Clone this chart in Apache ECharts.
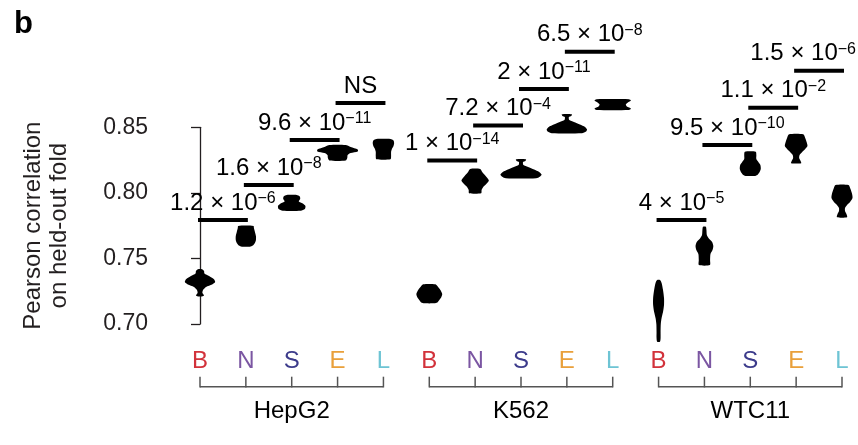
<!DOCTYPE html>
<html>
<head>
<meta charset="utf-8">
<script src="https://cdn.jsdelivr.net/npm/echarts@6/dist/echarts.min.js"></script>
<style>
html,body{margin:0;padding:0;background:#fff;}
#chart{width:858px;height:445px;}
</style>
</head>
<body>
<div id="chart"></div>
<script>
// ---------- data ----------
const groups = ['HepG2', 'K562', 'WTC11'];
const methods = ['B', 'N', 'S', 'E', 'L'];
const yTickValues = [0.70, 0.75, 0.80, 0.85];

// violin density profiles: [correlation, relative density], top to bottom
const hepg2Violins = [
  [[0.7417,0.10],[0.7404,0.20],[0.7385,0.22],[0.7366,0.45],[0.7343,0.68],[0.7320,0.75],[0.7301,0.60],[0.7282,0.30],[0.7259,0.15],[0.7236,0.12],[0.7217,0.20],[0.7210,0.10]],
  [[0.7748,0.38],[0.7732,0.40],[0.7702,0.45],[0.7671,0.50],[0.7641,0.50],[0.7618,0.45],[0.7599,0.35],[0.7590,0.20]],
  [[0.7984,0.25],[0.7973,0.40],[0.7953,0.42],[0.7934,0.35],[0.7919,0.55],[0.7900,0.68],[0.7877,0.65],[0.7864,0.45]],
  [[0.8365,0.40],[0.8350,0.65],[0.8331,1.00],[0.8316,1.00],[0.8304,0.65],[0.8289,0.50],[0.8266,0.48],[0.8246,0.40]],
  [[0.8411,0.35],[0.8400,0.50],[0.8381,0.53],[0.8358,0.50],[0.8335,0.42],[0.8312,0.38],[0.8281,0.38],[0.8256,0.35]]
];
const k562Violins = [
  [[0.7303,0.30],[0.7290,0.40],[0.7259,0.55],[0.7229,0.64],[0.7206,0.60],[0.7183,0.50],[0.7164,0.40],[0.7158,0.25]],
  [[0.8182,0.25],[0.8159,0.35],[0.8129,0.52],[0.8095,0.68],[0.8068,0.55],[0.8045,0.40],[0.8022,0.32],[0.7997,0.30]],
  [[0.8256,0.25],[0.8243,0.22],[0.8236,0.10],[0.8213,0.12],[0.8198,0.35],[0.8178,0.65],[0.8159,0.90],[0.8140,1.02],[0.8125,0.95],[0.8111,0.75]],
  [[0.8600,0.25],[0.8587,0.22],[0.8579,0.10],[0.8556,0.12],[0.8541,0.35],[0.8522,0.65],[0.8503,0.90],[0.8484,1.00],[0.8468,0.95],[0.8455,0.75]],
  [[0.8714,0.80],[0.8705,0.90],[0.8690,0.75],[0.8674,0.65],[0.8659,0.70],[0.8644,0.90],[0.8632,0.80]]
];
const wtc11Violins = [
  [[0.7336,0.07],[0.7313,0.15],[0.7259,0.22],[0.7198,0.27],[0.7145,0.27],[0.7092,0.22],[0.7046,0.15],[0.7000,0.11],[0.6939,0.10],[0.6893,0.10],[0.6865,0.07]],
  [[0.7742,0.07],[0.7717,0.10],[0.7679,0.12],[0.7656,0.20],[0.7625,0.38],[0.7595,0.44],[0.7564,0.40],[0.7534,0.30],[0.7488,0.28],[0.7450,0.27]],
  [[0.8314,0.27],[0.8289,0.30],[0.8259,0.30],[0.8236,0.40],[0.8213,0.50],[0.8182,0.52],[0.8156,0.45],[0.8137,0.35],[0.8129,0.20]],
  [[0.8447,0.35],[0.8419,0.45],[0.8388,0.52],[0.8358,0.56],[0.8335,0.45],[0.8312,0.30],[0.8289,0.17],[0.8266,0.15],[0.8243,0.22],[0.8226,0.25]],
  [[0.8060,0.32],[0.8030,0.42],[0.7992,0.50],[0.7961,0.52],[0.7931,0.40],[0.7908,0.25],[0.7885,0.15],[0.7862,0.15],[0.7839,0.22],[0.7814,0.25]]
];

// significance comparisons (between adjacent methods within a group)
const sigFrom     = [0, 1, 2, 3, 5, 6, 7, 8, 10, 11, 12, 13];
const sigY        = [0.7793, 0.8060, 0.8404, 0.8686, 0.8246, 0.8513, 0.8793, 0.9077, 0.7793, 0.8365, 0.8650, 0.8932];
const sigMantissa = ['1.2', '1.6', '9.6', 'NS', '1', '7.2', '2', '6.5', '4', '9.5', '1.1', '1.5'];
const sigExponent = ['−6', '−8', '−11', '', '−14', '−4', '−11', '−8', '−5', '−10', '−2', '−6'];

// ---------- styles ----------
const methodColors = ['#d2323b', '#7b56a2', '#3c3b8b', '#e9a03b', '#6ec4d4'];
const FONT = '"Liberation Sans", Arial, Helvetica, sans-serif';
const CHART_W = 858;

const allViolins = [].concat(hepg2Violins, k562Violins, wtc11Violins);
const violinData = allViolins.map((p, i) => [i, i]);

const measureCtx = document.createElement('canvas').getContext('2d');
function textWidth(str, size) {
  measureCtx.font = size + 'px ' + FONT;
  return measureCtx.measureText(str).width;
}

const chart = echarts.init(document.getElementById('chart'), null, {renderer: 'canvas'});

const rich = {};
methods.forEach((m, i) => { rich['c' + i] = {color: methodColors[i], fontSize: 24, fontFamily: FONT}; });

const option = {
  animation: false,
  backgroundColor: '#fff',
  grid: {left: 200, right: 16, top: 127.3, bottom: 121, containLabel: false, outerBoundsMode: 'none'},
  xAxis: {
    type: 'value', min: 0, max: 14, interval: 1,
    axisLine: {show: false}, axisTick: {show: false}, splitLine: {show: false},
    axisLabel: {
      margin: 25,
      fontFamily: FONT, fontSize: 24,
      formatter: v => '{c' + (v % 5) + '|' + methods[v % 5] + '}',
      rich: rich
    }
  },
  yAxis: {
    type: 'value', min: 0.70, max: 0.85, interval: 0.05, offset: 28,
    name: 'Pearson correlation\non held-out fold',
    nameLocation: 'middle', nameRotate: 90, nameGap: 100,
    nameTextStyle: {fontFamily: FONT, fontSize: 24, lineHeight: 26, color: '#231f20'},
    axisLine: {show: true, lineStyle: {color: '#231f20', width: 1.3}},
    axisTick: {show: true, length: 9, lineStyle: {color: '#231f20', width: 1.3}},
    splitLine: {show: false},
    axisLabel: {
      margin: 24, fontFamily: FONT, fontSize: 23, color: '#231f20',
      formatter: v => {
        const k = yTickValues.findIndex(t => Math.abs(t - v) < 1e-6);
        return k >= 0 ? yTickValues[k].toFixed(2) : '';
      }
    }
  },
  graphic: [{
    type: 'text', left: 14, top: 9,
    style: {text: 'b', font: 'bold 31px ' + FONT, fill: '#000'}
  }],
  series: [
    {
      type: 'custom', name: 'violins', clip: false,
      data: violinData,
      renderItem: function (params, api) {
        const idx = api.value(1);
        const prof = allViolins[idx];
        const pos = api.value(0);
        const unit = api.size([1, 0])[0] * 0.44;
        const right = [], left = [];
        prof.forEach(p => {
          const c = api.coord([pos, p[0]]);
          right.push([c[0] + p[1] * unit, c[1]]);
          left.push([c[0] - p[1] * unit, c[1]]);
        });
        const pts = right.concat(left.reverse());
        return {type: 'polygon', shape: {points: pts, smooth: 0.25}, style: {fill: '#000'}};
      }
    },
    {
      type: 'custom', name: 'significance', clip: false,
      data: sigFrom.map((f, i) => [f, sigY[i], i]),
      renderItem: function (params, api) {
        const f = api.value(0), y = api.value(1), i = api.value(2);
        const a = api.coord([f, y]);
        const b = api.coord([f + 1, y]);
        const hasExp = !!sigExponent[i];
        const mainStr = hasExp ? sigMantissa[i] + ' × 10' : sigMantissa[i];
        const text = hasExp
          ? '{m|' + mainStr + '}{s|' + sigExponent[i] + '}'
          : '{m|' + mainStr + '}';
        const w = textWidth(mainStr, 24) + (hasExp ? textWidth(sigExponent[i], 16) : 0);
        let cx = (a[0] + b[0]) / 2;
        if (cx + w / 2 > CHART_W - 2) cx = CHART_W - 2 - w / 2;
        return {
          type: 'group',
          children: [
            {type: 'line', shape: {x1: a[0] - 2, y1: a[1], x2: b[0] + 2, y2: b[1]},
             style: {stroke: '#000', lineWidth: 4}},
            {type: 'text', x: cx, y: a[1] - 5,
             style: {
               text: text, align: 'center', verticalAlign: 'bottom',
               rich: {
                 m: {fontFamily: FONT, fontSize: 24, lineHeight: 24, color: '#000', verticalAlign: 'bottom'},
                 s: {fontFamily: FONT, fontSize: 16, lineHeight: 16, color: '#000', verticalAlign: 'top'}
               }
             }}
          ]
        };
      }
    },
    {
      type: 'custom', name: 'groups', clip: false,
      data: groups.map((g, i) => [i * 5, i]),
      renderItem: function (params, api) {
        const s = api.value(0), gi = api.value(1);
        const base = api.coord([s, 0.70]);
        const yLine = base[1] + 62.7;
        const children = [];
        const x0 = api.coord([s, 0.70])[0];
        const x4 = api.coord([s + 4, 0.70])[0];
        children.push({type: 'line', shape: {x1: x0, y1: yLine, x2: x4, y2: yLine},
          style: {stroke: '#555', lineWidth: 1.5}});
        for (let k = 0; k < 5; k++) {
          const xk = api.coord([s + k, 0.70])[0];
          children.push({type: 'line', shape: {x1: xk, y1: yLine - 10, x2: xk, y2: yLine + 0.75},
            style: {stroke: '#555', lineWidth: 1.5}});
        }
        const xc = api.coord([s + 2, 0.70])[0];
        children.push({type: 'text', x: xc, y: yLine + 25,
          style: {text: groups[gi], fontFamily: FONT, fontSize: 24, fill: '#000',
                  align: 'center', verticalAlign: 'middle'}});
        return {type: 'group', children: children};
      }
    }
  ]
};
chart.setOption(option);
</script>
</body>
</html>
